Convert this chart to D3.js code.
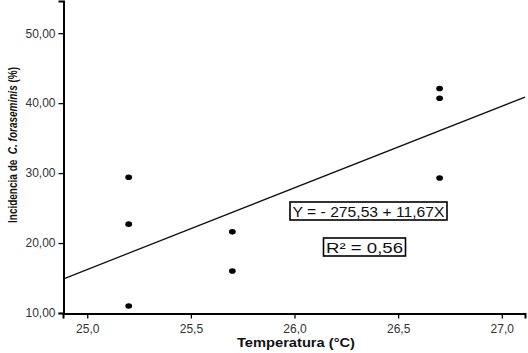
<!DOCTYPE html>
<html>
<head>
<meta charset="utf-8">
<script src="https://cdn.jsdelivr.net/npm/d3@7"></script>
<style>
  body { margin: 0; background: #fff; }
  svg { display: block; font-family: "Liberation Sans", Arial, sans-serif; }
</style>
</head>
<body>
<div id="chart"></div>
<script>
// data
const temps = [25.2, 25.2, 25.2, 25.7, 25.7, 26.7, 26.7, 26.7];
const incid = [29.4, 22.7, 11.0, 21.6, 16.0, 42.1, 40.7, 29.3];
const fitA = -275.53, fitB = 11.67;
const yTicks = [10, 20, 30, 40, 50];
const xTicks = [25.0, 25.5, 26.0, 26.5, 27.0];
const eqLabel = "Y = - 275,53 + 11,67X";
const r2Label = "R\u00b2 = 0,56";

const W = 528, H = 353;
const svg = d3.select('#chart').append('svg').attr('width', W).attr('height', H);

const x = d3.scaleLinear().domain([24.883, 27.112]).range([63, 525]);
const y = d3.scaleLinear().domain([10, 54.6]).range([313, 1]);

const loc = d3.formatLocale({decimal: ",", thousands: ".", grouping: [3], currency: ["", ""]});

// regression line
const xd = x.domain();
svg.append('line')
  .attr('x1', x(xd[0])).attr('y1', y(fitA + fitB * xd[0]))
  .attr('x2', x(xd[1])).attr('y2', y(fitA + fitB * xd[1]))
  .attr('stroke', '#111').attr('stroke-width', 1.3);

// axes
const gx = svg.append('g').attr('transform', 'translate(0,313.5)')
  .call(d3.axisBottom(x).tickValues(xTicks).tickFormat(loc.format('.1f')).tickSizeOuter(0).tickSize(5).tickPadding(4));
const gy = svg.append('g').attr('transform', 'translate(63.5,0)')
  .call(d3.axisLeft(y).tickValues(yTicks).tickFormat(loc.format('.2f')).tickSizeOuter(0).tickSize(5).tickPadding(3));
[gx, gy].forEach(g => {
  g.select('.domain').attr('stroke', '#000').attr('stroke-width', 2);
  g.selectAll('.tick line').attr('stroke', '#000').attr('stroke-width', 1.3);
  g.selectAll('.tick text').attr('fill', '#333').style('font-size', '12px')
    .style('font-family', '"Liberation Sans", Arial, sans-serif');
});
gx.selectAll('.tick text').attr('dy', '0.85em');

// points
svg.append('g').selectAll('ellipse')
  .data(temps.map((t, i) => [t, incid[i]]))
  .join('ellipse')
  .attr('cx', d => x(d[0])).attr('cy', d => y(d[1]))
  .attr('rx', 3.4).attr('ry', 2.8).attr('fill', '#000');

// labelled boxes
function boxed(txt, cx, by, len) {
  const g = svg.append('g');
  const r = g.append('rect');
  const t = g.append('text').attr('x', cx).attr('y', by)
    .attr('text-anchor', 'middle').attr('textLength', len).attr('lengthAdjust', 'spacingAndGlyphs')
    .style('font-size', '14.5px').attr('fill', '#111').text(txt);
  const b = t.node().getBBox();
  r.attr('x', cx - len / 2 - 2.5).attr('y', b.y - 1.5).attr('width', len + 5).attr('height', b.height + 2)
    .attr('fill', '#fff').attr('stroke', '#000').attr('stroke-width', 1.6);
}
boxed(eqLabel, 368.5, 216.5, 152);
boxed(r2Label, 364.5, 252.5, 77);

// axis titles
svg.append('text').attr('x', 296).attr('y', 347).attr('text-anchor', 'middle')
  .attr('textLength', 118).attr('lengthAdjust', 'spacingAndGlyphs')
  .style('font-size', '13px').style('font-weight', 'bold').attr('fill', '#111')
  .text('Temperatura (\u00b0C)');

const yt = svg.append('text').attr('transform', 'translate(16.5,145) rotate(-90)')
  .attr('text-anchor', 'middle').attr('textLength', 156).attr('lengthAdjust', 'spacingAndGlyphs')
  .style('font-size', '13.5px').style('font-weight', 'bold').style('white-space', 'pre').attr('fill', '#111');
yt.append('tspan').text('Incidencia de  ');
yt.append('tspan').style('font-style', 'italic').text('C. foraseminis');
yt.append('tspan').text(' (%)');
</script>
</body>
</html>
